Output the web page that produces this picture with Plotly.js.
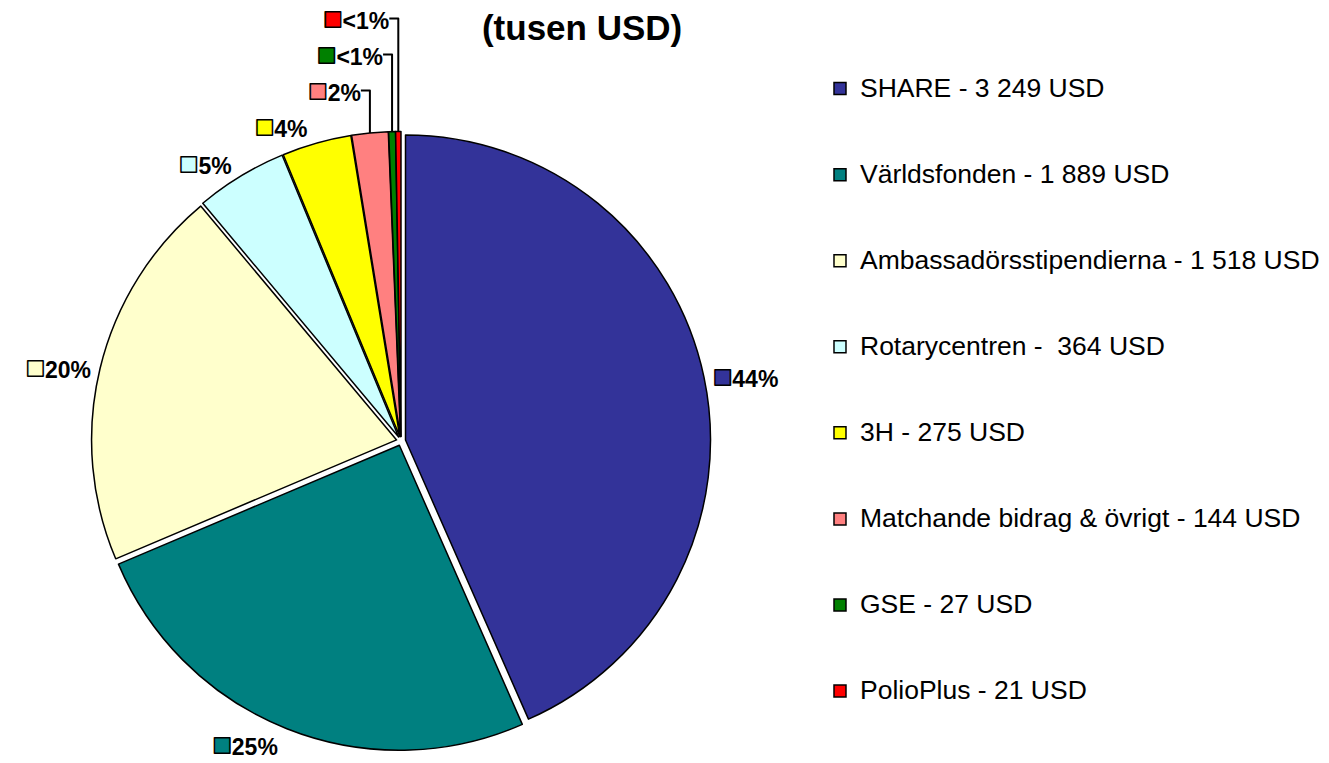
<!DOCTYPE html>
<html>
<head>
<meta charset="utf-8">
<script src="https://cdn.plot.ly/plotly-3.0.1.min.js"></script>
<style>html,body{margin:0;padding:0;background:#fff;}#chart{width:1329px;height:763px;}</style>
</head>
<body>
<div id="chart"></div>
<script>
const categories = ["SHARE", "Världsfonden", "Ambassadörsstipendierna", "Rotarycentren", "3H", "Matchande bidrag & övrigt", "GSE", "PolioPlus"];
const values = [3249, 1889, 1518, 364, 275, 144, 27, 21];
const legendLabels = ["SHARE - 3 249 USD", "Världsfonden - 1 889 USD", "Ambassadörsstipendierna - 1 518 USD", "Rotarycentren -  364 USD", "3H - 275 USD", "Matchande bidrag & övrigt - 144 USD", "GSE - 27 USD", "PolioPlus - 21 USD"];
const pctLabels = ["44%", "25%", "20%", "5%", "4%", "2%", "<1%", "<1%"];
const colors = ["#333399", "#008080", "#FFFFCC", "#CCFFFF", "#FFFF00", "#FF8080", "#008000", "#FF0000"];

const labels = legendLabels.map(t => '<span style="font-size:26.5px">' + t + '</span><br>\u00a0<br>\u00a0');
const texts = pctLabels.map((p, i) => '<span style="color:' + colors[i] + ';stroke:#000000;stroke-width:1.5px;font-size:32px">■</span>' + p.replace('<', '&lt;'));

const trace = {
  type: 'pie',
  labels: labels,
  values: values,
  text: texts,
  textinfo: 'text',
  textposition: 'outside',
  sort: false,
  direction: 'clockwise',
  rotation: 0,
  pull: values.map(() => 0.015),
  marker: {colors: colors, line: {color: '#000000', width: 1.5}},
  outsidetextfont: {family: 'Liberation Sans, Arial, sans-serif', size: 23, color: '#000000', weight: 'bold'},
  hovertext: categories,
  hoverinfo: 'text+value+percent',
  domain: {x: [0.0688, 0.5347], y: [0.0163, 0.8278]}
};

const layout = {
  width: 1329,
  height: 763,
  margin: {l: 0, r: 0, t: 0, b: 0, autoexpand: false},
  paper_bgcolor: '#ffffff',
  font: {family: 'Liberation Sans, Arial, sans-serif', color: '#000000'},
  title: {
    text: '(tusen USD)',
    font: {family: 'Liberation Sans, Arial, sans-serif', size: 35, color: '#000000', weight: 'bold'},
    x: 0.438, xanchor: 'center',
    y: 0.963, yanchor: 'middle'
  },
  showlegend: true,
  legend: {
    x: 0.617, xanchor: 'left',
    y: 0.9106, yanchor: 'top',
    valign: 'top',
    font: {family: 'Liberation Sans, Arial, sans-serif', size: 21.3, color: '#000000'},
    bgcolor: 'rgba(0,0,0,0)'
  }
};

Plotly.newPlot('chart', [trace], layout, {displayModeBar: false});
</script>
</body>
</html>
